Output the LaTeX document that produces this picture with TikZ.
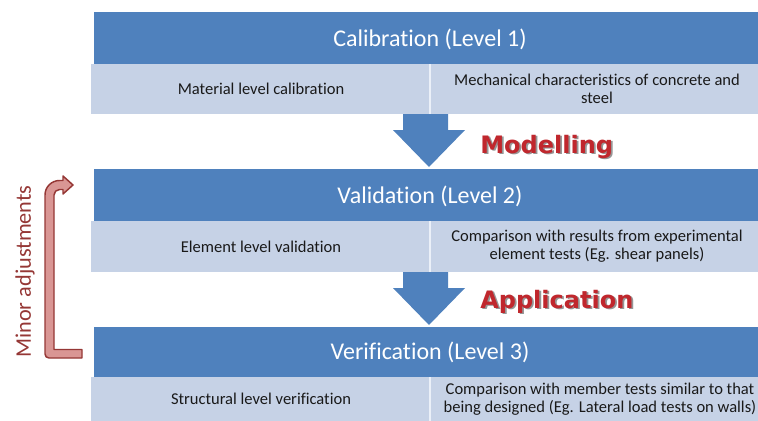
\documentclass[tikz,border=0pt]{standalone}
\usepackage{fontspec}
\setmainfont{Carlito}[Ligatures=NoCommon]
\newfontfamily\artfont{DejaVu Sans}

\begin{document}
\begin{tikzpicture}[x=0.75pt,y=0.75pt,yscale=-1,xscale=1,
  hdrbar/.style={fill={rgb, 255:red, 79; green, 129; blue, 189 }},
  cellbar/.style={fill={rgb, 255:red, 198; green, 210; blue, 230 }},
  celldiv/.style={color={rgb, 255:red, 235; green, 240; blue, 248 }, line width=1.2},
  blockarrow/.style={fill={rgb, 255:red, 79; green, 129; blue, 189 }},
  hdrtext/.style={anchor=base, inner sep=0.75pt, text=white, font=\fontsize{18}{21}\selectfont},
  celltext/.style={inner sep=0.75pt, align=center, text={rgb, 255:red, 25; green, 25; blue, 25 }, font=\fontsize{12.4}{13.5}\selectfont},
  arttext/.style={anchor=base west, inner sep=0pt, text={rgb, 255:red, 192; green, 39; blue, 45 }, font=\artfont\bfseries\fontsize{18}{21}\selectfont},
  artshade/.style={arttext, text={rgb, 255:red, 150; green, 150; blue, 150 }}
]
\useasboundingbox (0,0) rectangle (758,421);

%Shape: Rectangle
\draw  [hdrbar, draw=none] (94,12) -- (758,12) -- (758,64) -- (94,64) -- cycle ;
%Shape: Rectangle
\draw  [cellbar, draw=none] (91,64) -- (758,64) -- (758,114) -- (91,114) -- cycle ;
%Shape: Rectangle
\draw  [hdrbar, draw=none] (94,169) -- (758,169) -- (758,221) -- (94,221) -- cycle ;
%Shape: Rectangle
\draw  [cellbar, draw=none] (91,221) -- (758,221) -- (758,272) -- (91,272) -- cycle ;
%Shape: Rectangle
\draw  [hdrbar, draw=none] (94,327) -- (758,327) -- (758,377) -- (94,377) -- cycle ;
%Shape: Rectangle
\draw  [cellbar, draw=none] (91,377) -- (758,377) -- (758,421) -- (91,421) -- cycle ;
%Straight Lines
\draw  [celldiv]  (430,64) -- (430,114) ;
\draw  [celldiv]  (430,221) -- (430,272) ;
\draw  [celldiv]  (430,377) -- (430,421) ;

%Shape: Down Arrow
\draw  [blockarrow, draw=none] (403,114) -- (448,114) -- (448,130) -- (465,130) -- (429,167) -- (393,130) -- (403,130) -- cycle ;
%Shape: Down Arrow
\draw  [blockarrow, draw=none] (403,272) -- (448,272) -- (448,288) -- (465,288) -- (429,325) -- (393,288) -- (403,288) -- cycle ;

%Shape: Bent Up Arrow
\draw  [draw={rgb, 255:red, 149; green, 55; blue, 53 }, fill={rgb, 255:red, 217; green, 150; blue, 148 }, line width=1.1, line join=round] (82,358) -- (49,358) arc (90:180:4) -- (45,195) arc (180:270:14.5) -- (63,180.5) -- (63,176) -- (73,185) -- (63,194) -- (63,189.5) -- (59.5,189.5) arc (270:180:5.5) -- (54,349.5) -- (82,349.5) -- cycle ;

% Text Node
\draw (430,46) node (calhead) [hdrtext]  {Calibration (Level 1)};
% Text Node
\draw (261,89) node (calmat) [celltext]  {Material level calibration};
% Text Node
\draw (597,89) node (calmech) [celltext]  {Mechanical characteristics of concrete and\\steel};
% Text Node
\draw (430,203) node (valhead) [hdrtext]  {Validation (Level 2)};
% Text Node
\draw (261,246.5) node (valelem) [celltext]  {Element level validation};
% Text Node
\draw (597,246.5) node (valcomp) [celltext]  {Comparison with results from experimental\\element tests (Eg. shear panels)};
% Text Node
\draw (430,359) node (verhead) [hdrtext]  {Verification (Level 3)};
% Text Node
\draw (261,399) node (verstruc) [celltext]  {Structural level verification};
% Text Node
\draw (600,399) node (vercomp) [celltext]  {Comparison with member tests similar to that\\being designed (Eg. Lateral load tests on walls)};

% Text Node
\draw (481.8,154.8) node (modshade) [artshade]  {Modelling};
\draw (480,153) node (model) [arttext]  {Modelling};
% Text Node
\draw (481.8,309.8) node (appshade) [artshade]  {Application};
\draw (480,308) node (appl) [arttext]  {Application};
% Text Node
\draw (25,271.5) node (minor) [rotate=90, inner sep=0.75pt, text={rgb, 255:red, 149; green, 55; blue, 53 }, font=\fontsize{16.7}{20}\selectfont]  {Minor adjustments};

\end{tikzpicture}
\end{document}
